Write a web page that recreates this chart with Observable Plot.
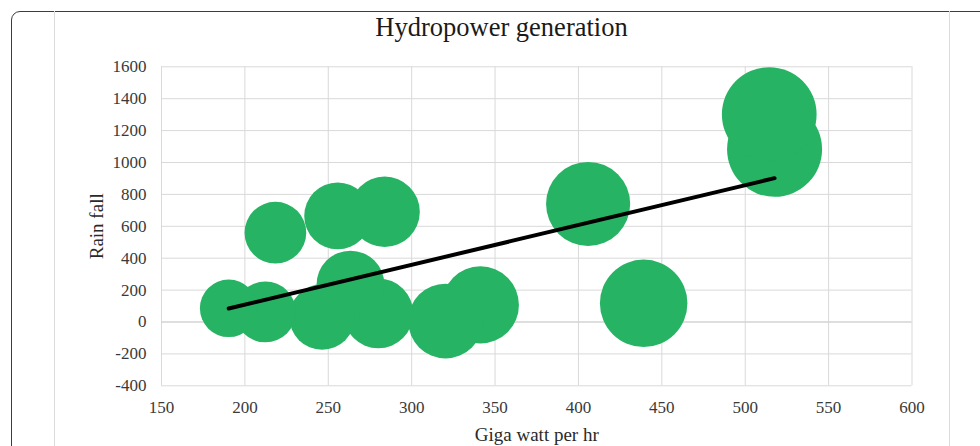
<!DOCTYPE html>
<html>
<head>
<meta charset="utf-8">
<script src="https://cdn.jsdelivr.net/npm/d3@7"></script>
<script src="https://cdn.jsdelivr.net/npm/@observablehq/plot@0.6"></script>
<style>
  html, body { margin: 0; padding: 0; background: #fff; }
  #wrap { position: relative; width: 980px; height: 446px; overflow: hidden; background: #fff; }
  #frame { position: absolute; left: 10.5px; top: 10.5px; width: 1100px; height: 600px;
           border: 1.3px solid #3c3c3c; border-radius: 9px; box-sizing: border-box; }
  .vline { position: absolute; top: 11px; width: 1px; height: 440px; background: #dcdcdc; }
  #title { position: absolute; left: 54px; width: 895px; top: 14px; text-align: center;
           font-family: "Liberation Serif", serif; font-size: 26.5px; line-height: 1; color: #1a1a1a; }
  #chart { position: absolute; left: 0; top: 0; }
  #chart svg, #chart svg text { font-family: "Liberation Serif", serif !important; }
</style>
</head>
<body>
<div id="wrap">
  <div id="frame"></div>
  <div class="vline" style="left:54px"></div>
  <div class="vline" style="left:949px"></div>
  <div id="chart"></div>
  <div id="title">Hydropower generation</div>
</div>
<script>
// Giga watt per hr (x) — also used as bubble size
const gigaWatt = [190.3, 212.3, 218.3, 255.6, 283.8, 263.3, 246.3, 280.0, 320.3, 341.2, 405.8, 439.1, 514.4, 517.6];
// Rain fall (y)
const rainFall = [86, 63, 560, 665, 691, 235, 31, 54, 6, 107, 740, 117, 1301, 1083];
const xTicks = [150, 200, 250, 300, 350, 400, 450, 500, 550, 600];
const yTicks = [-400, -200, 0, 200, 400, 600, 800, 1000, 1200, 1400, 1600];

const data = gigaWatt.map((g, i) => ({gw: g, rain: rainFall[i]}));

const chart = Plot.plot({
  width: 980,
  height: 446,
  marginLeft: 161,
  marginRight: 68.5,
  marginTop: 66.3,
  marginBottom: 60.7,
  style: {fontFamily: "'Liberation Serif', serif", fontSize: "17px", color: "#3a3a3a", background: "transparent", overflow: "visible"},
  x: {domain: [150, 600], ticks: xTicks, tickSize: 0, tickPadding: 15.5, tickFormat: d => String(d),
      label: "Giga watt per hr", labelAnchor: "center", labelArrow: "none", labelOffset: 55},
  y: {domain: [-400, 1600], ticks: yTicks, tickSize: 0, tickPadding: 15, tickFormat: d => String(d),
      label: "Rain fall", labelAnchor: "center", labelArrow: "none", labelOffset: 72},
  r: {type: "sqrt", domain: [0, 517.6], range: [0, 47.5]},
  marks: [
    Plot.gridX(xTicks, {stroke: "#d9d9d9", strokeOpacity: 1, strokeWidth: 1}),
    Plot.gridY(yTicks, {stroke: "#d9d9d9", strokeOpacity: 1, strokeWidth: 1}),
    Plot.ruleY([0], {stroke: "#d0d0d0", strokeWidth: 1.2}),
    Plot.dot(data, {x: "gw", y: "rain", r: "gw", fill: "#26b363", stroke: "none"}),
    Plot.linearRegressionY(data, {x: "gw", y: "rain", ci: 0, stroke: "#000", strokeWidth: 4, strokeLinecap: "round"})
  ]
});
document.getElementById("chart").appendChild(chart);
chart.querySelectorAll("text").forEach(t => {
  t.style.fontFamily = "'Liberation Serif', serif";
  t.style.fontVariantNumeric = "normal";
});
chart.querySelectorAll("[aria-label='x-axis label'] text, [aria-label='y-axis label'] text").forEach(t => {
  t.style.fontSize = "19px";
  t.style.fill = "#2a2a2a";
});
</script>
</body>
</html>
